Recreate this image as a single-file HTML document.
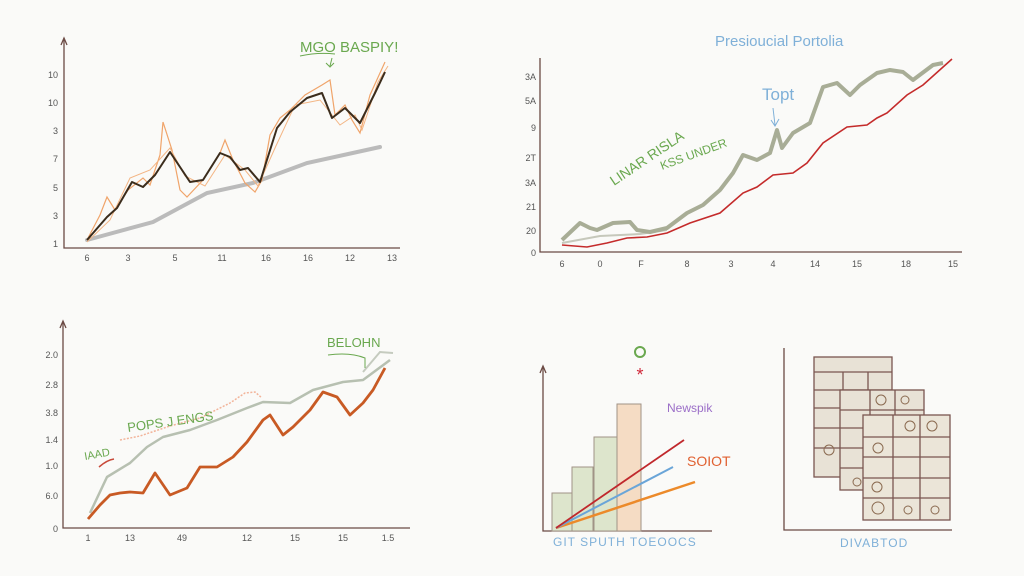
<!DOCTYPE html>
<html><head><meta charset="utf-8"><style>
html,body{margin:0;padding:0;background:#fafaf8;}
svg{display:block;}
text{font-family:"Liberation Sans",sans-serif;}
</style></head><body>
<svg width="1024" height="576" viewBox="0 0 1024 576" xmlns="http://www.w3.org/2000/svg">
<rect width="1024" height="576" fill="#fafaf8"/>
<g stroke="#6b4a44" stroke-width="1.3" fill="none">
<path d="M64,40 L64,248 L400,248"/><path d="M61,45 L64,38 L67,45"/>
<path d="M540,58 L540,252 L962,252"/>
<path d="M63,322 L63,528 L410,528"/><path d="M60,328 L63,321 L66,328"/>
<path d="M543,367 L543,531 L712,531"/><path d="M540,373 L543,366 L546,373"/>
<path d="M784,348 L784,530 L952,530"/>
</g>
<g font-size="9" fill="#555" text-anchor="end">
<text x="58" y="78">10</text><text x="58" y="106">10</text><text x="58" y="134">3</text><text x="58" y="162">7</text><text x="58" y="191">5</text><text x="58" y="219">3</text><text x="58" y="247">1</text>
<text x="536" y="80">3A</text><text x="536" y="104">5A</text><text x="536" y="131">9</text><text x="536" y="161">2T</text><text x="536" y="186">3A</text><text x="536" y="210">21</text><text x="536" y="234">20</text><text x="536" y="256">0</text>
<text x="58" y="358">2.0</text><text x="58" y="388">2.8</text><text x="58" y="416">3.8</text><text x="58" y="443">1.4</text><text x="58" y="469">1.0</text><text x="58" y="499">6.0</text><text x="58" y="532">0</text>
</g>
<g font-size="9" fill="#555" text-anchor="middle">
<text x="87" y="261">6</text><text x="128" y="261">3</text><text x="175" y="261">5</text><text x="222" y="261">11</text><text x="266" y="261">16</text><text x="308" y="261">16</text><text x="350" y="261">12</text><text x="392" y="261">13</text>
<text x="562" y="267">6</text><text x="600" y="267">0</text><text x="641" y="267">F</text><text x="687" y="267">8</text><text x="731" y="267">3</text><text x="773" y="267">4</text><text x="815" y="267">14</text><text x="857" y="267">15</text><text x="906" y="267">18</text><text x="953" y="267">15</text>
<text x="88" y="541">1</text><text x="130" y="541">13</text><text x="182" y="541">49</text><text x="247" y="541">12</text><text x="295" y="541">15</text><text x="343" y="541">15</text><text x="388" y="541">1.5</text>
</g>
<polyline fill="none" stroke="#bbb" stroke-width="4" stroke-linecap="round" points="87,240 153,222 207,193 253,183 307,163 380,147"/>
<polyline fill="none" stroke="#f0a46a" stroke-width="1.2" points="87,240 100,215 107,197 115,210 128,190 143,178 150,185 160,155 163,122 172,150 180,190 187,197 203,180 220,153 225,140 233,160 245,183 255,192 262,180 270,135 280,118 290,110 305,95 322,85 330,80 335,115 345,105 352,120 360,133 370,95 385,62"/>
<polyline fill="none" stroke="#f3b584" stroke-width="1" points="87,242 110,220 130,178 150,170 170,148 185,176 205,186 225,155 245,170 258,186 275,148 295,105 320,100 340,125 355,115 362,130 378,82 388,66"/>
<polyline fill="none" stroke="#3b2c1c" stroke-width="2" stroke-linejoin="round" points="87,240 107,217 117,208 132,182 143,187 155,175 170,152 180,167 190,182 203,180 220,153 230,157 240,170 248,168 260,182 277,128 290,112 307,98 322,93 332,118 345,108 360,123 375,93 385,72"/>
<text x="300" y="52" font-size="15" fill="#6aa84f">MGO BASPIY!</text>
<path d="M300,56 Q318,52 335,54 M332,58 L330,66 M326,63 L330,67 L334,63" stroke="#6aa84f" fill="none" stroke-width="1"/>
<text x="715" y="46" font-size="15" fill="#7fb0d8">Presioucial Portolia</text>
<polyline fill="none" stroke="#c6c8bb" stroke-width="2" points="562,243 600,236 640,234 667,230"/>
<polyline fill="none" stroke="#a8ad96" stroke-width="4" stroke-linejoin="round" points="562,240 580,223 590,228 597,230 613,223 630,222 637,230 650,232 667,228 687,213 703,205 720,190 733,173 743,155 757,160 770,153 777,130 782,148 793,133 810,123 823,87 837,83 850,95 860,85 877,73 890,70 903,72 913,80 933,65 943,63"/>
<polyline fill="none" stroke="#c42b2b" stroke-width="1.6" points="562,245 587,247 607,243 627,238 647,237 667,233 690,223 720,213 743,193 757,187 773,175 793,173 807,163 823,143 847,127 867,125 877,118 887,113 907,95 923,85 952,59"/>
<text transform="translate(614,186) rotate(-34)" font-size="14" fill="#6aa84f">LINAR RISLA</text>
<text transform="translate(662,170) rotate(-20)" font-size="12" fill="#6aa84f">KSS UNDER</text>
<text x="762" y="100" font-size="17" fill="#7fb0d8">Topt</text>
<path d="M773,108 L775,125 M771,120 L775,126 L779,119" stroke="#7fb0d8" fill="none"/>
<polyline fill="none" stroke="#f2b49a" stroke-width="1.5" stroke-dasharray="2,1.5" points="120,440 140,436 170,426 200,418 230,403 245,393 255,392 262,398"/>
<polyline fill="none" stroke="#c5cbbf" stroke-width="2" points="363,372 380,352 393,353"/>
<polyline fill="none" stroke="#b7c0b1" stroke-width="2.5" stroke-linejoin="round" points="90,513 107,477 130,463 147,447 163,437 190,430 217,420 247,408 263,402 290,403 313,390 343,382 363,380 390,360"/>
<polyline fill="none" stroke="#c85a24" stroke-width="2.8" stroke-linejoin="round" points="88,519 100,505 110,495 120,493 130,492 143,493 155,473 170,495 187,488 200,467 217,467 233,457 247,442 263,420 270,415 283,435 293,427 310,410 323,392 337,397 350,415 363,403 373,390 385,368"/>
<text x="327" y="347" font-size="13" fill="#6aa84f">BELOHN</text>
<path d="M328,355 Q350,352 365,358 L365,368" stroke="#6aa84f" fill="none"/>
<text x="128" y="432" font-size="13" fill="#6aa84f" transform="rotate(-8,128,432)">POPS J ENGS</text>
<text x="85" y="460" font-size="11" fill="#6aa84f" transform="rotate(-10,85,460)">IAAD</text>
<path d="M99,467 Q107,460 114,459" stroke="#c84a3a" fill="none" stroke-width="1.5"/>
<g stroke="#a09386" stroke-width="1">
<rect x="552" y="493" width="20" height="38" fill="#dde5cc"/>
<rect x="572" y="467" width="21" height="64" fill="#dde5cc"/>
<rect x="594" y="437" width="23" height="94" fill="#dde5cc"/>
<rect x="617" y="404" width="24" height="127" fill="#f5dcc4"/>
</g>
<line x1="556" y1="528" x2="695" y2="482" stroke="#ec8a2a" stroke-width="2.5"/>
<line x1="556" y1="528" x2="673" y2="467" stroke="#6aa5d8" stroke-width="2"/>
<line x1="556" y1="528" x2="684" y2="440" stroke="#c0282c" stroke-width="1.8"/>
<text x="667" y="412" font-size="12" fill="#9b6ec8">Newspik</text>
<text x="687" y="466" font-size="14" fill="#e06030">SOIOT</text>
<text x="553" y="546" font-size="12" fill="#7fb0d8" letter-spacing="1">GIT SPUTH TOEOOCS</text>
<circle cx="640" cy="352" r="5" fill="none" stroke="#6aa84f" stroke-width="2"/>
<text x="640" y="381" font-size="18" fill="#d0283a" text-anchor="middle">*</text>
<g stroke="#7a5650" stroke-width="1.3" fill="#e8e2d6">
<rect x="814" y="357" width="78" height="120"/>
<path d="M814,372 H892 M814,390 H892 M814,408 H892 M814,428 H892 M814,448 H892 M843,372 V477 M868,372 V477" fill="none"/>
<rect x="840" y="390" width="84" height="100"/>
<path d="M840,410 H924 M840,428 H924 M840,448 H924 M840,468 H924 M870,390 V490 M895,390 V490" fill="none"/>
<rect x="863" y="415" width="87" height="105" fill="#ebe5d8"/>
<path d="M863,437 H950 M863,457 H950 M863,478 H950 M863,498 H950 M893,415 V520 M920,415 V520" fill="none"/>
</g>
<g fill="none" stroke="#8a6a50" stroke-width="1">
<circle cx="881" cy="400" r="5"/><circle cx="905" cy="400" r="4"/><circle cx="910" cy="426" r="5"/><circle cx="932" cy="426" r="5"/><circle cx="878" cy="448" r="5"/><circle cx="877" cy="487" r="5"/><circle cx="908" cy="510" r="4"/><circle cx="935" cy="510" r="4"/><circle cx="878" cy="508" r="6"/><circle cx="829" cy="450" r="5"/><circle cx="857" cy="482" r="4"/>
</g>
<text x="840" y="547" font-size="12" fill="#7fb0d8" letter-spacing="1">DIVABTOD</text>
</svg>
</body></html>
